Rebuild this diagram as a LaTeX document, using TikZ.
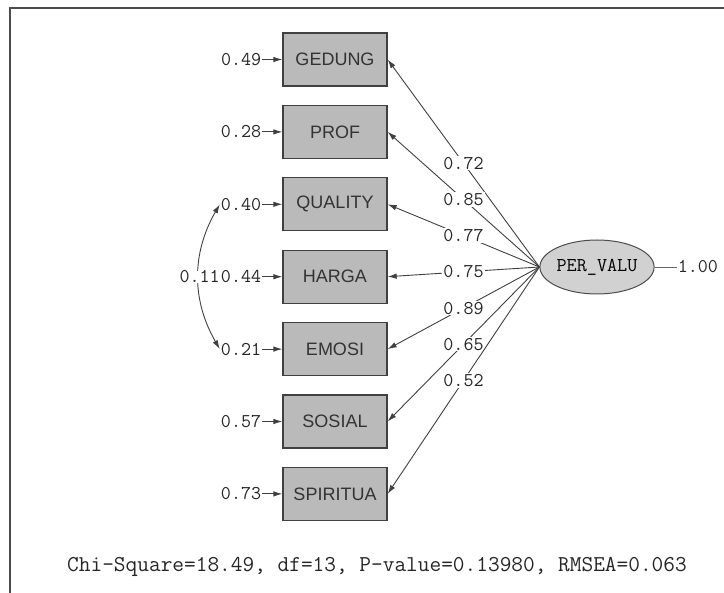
\documentclass[tikz,border=0pt]{standalone}
\usepackage{fontspec}
\setmainfont{Liberation Sans}
\usetikzlibrary{arrows.meta, shapes.geometric, positioning}

\tikzset{
  obs/.style={draw=black!75, fill=black!27, line width=1.3pt, minimum width=104pt,
    minimum height=53pt, text=black!80, font=\fontsize{18}{18}\selectfont},
  lat/.style={ellipse, draw=black!70, fill=black!18, line width=1pt, minimum width=101pt,
    minimum height=54pt, inner sep=0pt, font=\ttfamily\fontsize{19.6}{20}\selectfont},
  num/.style={text=black!85, inner sep=1pt, font=\ttfamily\fontsize{19.5}{20}\selectfont},
  stats/.style={text=black!85, inner sep=0pt, font=\ttfamily\fontsize{22.7}{23}\selectfont},
  arr/.style={->, draw=black!75, line width=.9pt}
}

\begin{document}
\begin{tikzpicture}[x=1pt, y=-1pt, >={Latex[length=9pt, width=5.5pt]}]
  \useasboundingbox (0,0) rectangle (724,593);
  \draw[line width=2pt, black!70] (10,593) -- (10,8) -- (724,8);
  % latent variable
  \node[lat] (PV) at (597,267) {PER\_VALU};
  \node[num, right=22pt of PV] (PVvar) {1.00};
  \draw[black!60, line width=.6pt] (PV) -- (PVvar);
  % indicators, errors and loadings
  \foreach \name/\err/\load [count=\k] in {GEDUNG/0.49/0.72, PROF/0.28/0.85,
      QUALITY/0.40/0.77, HARGA/0.44/0.75, EMOSI/0.21/0.89, SOSIAL/0.57/0.65,
      SPIRITUA/0.73/0.52}{
    \pgfmathsetmacro\ypos{59.5 + 72.4*(\k - 1)}
    \node[obs] (X\k) at (335,\ypos) {\name};
    \node[num, left=20pt of X\k] (E\k) {\err};
    \draw[arr] (E\k) -- (X\k);
    \draw[arr] (PV.west) -- node[num, fill=white, pos=.5] {\load} (X\k.east);
  }
  % error covariance
  \draw[arr, <->] (E3.west) to[bend right=30]
    node[num, fill=white, inner sep=0pt, xshift=1pt] {0.11} (E5.west);
  \node[stats] (fit) at (377,567) {Chi-Square=18.49, df=13, P-value=0.13980, RMSEA=0.063};
\end{tikzpicture}
\end{document}
